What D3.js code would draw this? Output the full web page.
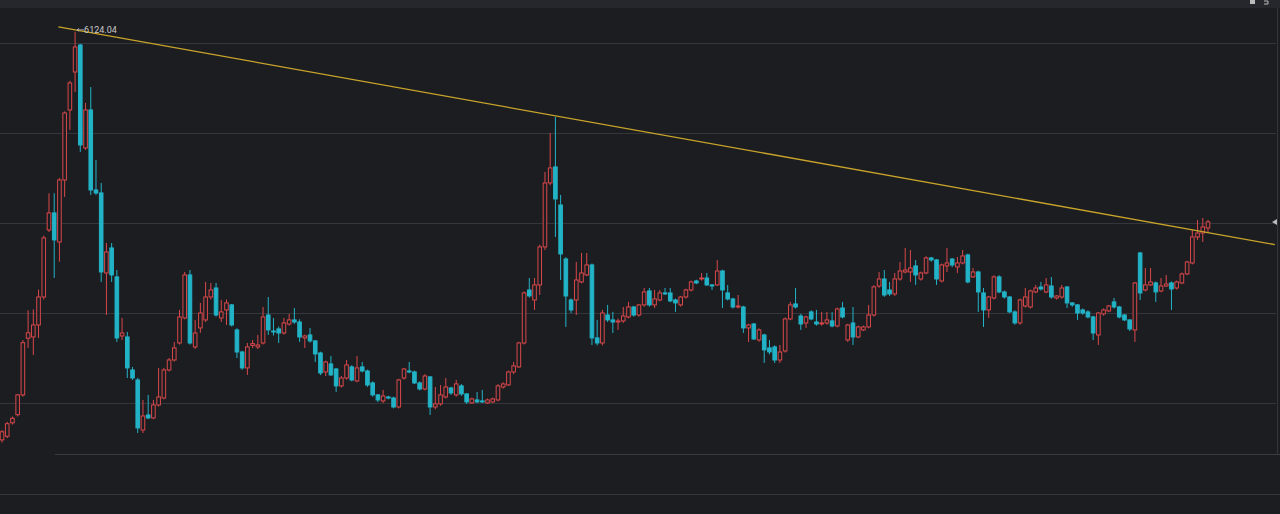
<!DOCTYPE html>
<html>
<head>
<meta charset="utf-8">
<script src="https://cdn.jsdelivr.net/npm/d3@7"></script>
<style>
  body { margin: 0; background: #1c1d21; }
  svg { display: block; }
</style>
</head>
<body>
<div id="chart"></div>
<script>
var width = 1280, height = 514;

// monthly candles
var opens = [1590,1630,1780,1870,2090,2720,2734,2867,3178,3923,4112,3789,4478,5256,5678,5978,4834,5256,4367,4334,3445,3723,3401,2745,2734,2367,2256,1700,1867,1834,1978,2056,2367,2478,2667,2945,3423,2623,2834,2923,3178,3278,2945,3034,3090,2812,2567,2390,
  2640,2623,2667,2978,2800,2823,2778,2878,2923,2900,2723,2756,2690,2556,2345,2434,2378,2190,2278,2401,2245,2401,2356,2223,2090,2023,2067,2056,1956,2278,2356,2345,2223,2156,2290,1956,1990,2067,2167,2090,2190,2101,2001,2034,2023,2001,2012,2034,2178,2201,2345,2401,2667,3256,3145,3312,3734,4445,4623,4200,3600,3145,
  3145,3345,3423,3534,2723,2667,2978,2923,2900,2912,2956,3067,2978,3090,3245,3090,3145,3223,3223,3145,3090,3178,3256,3356,3378,3389,3312,3312,3467,3223,3156,3067,3067,2834,2878,2701,2756,2612,2623,2478,2578,2934,3101,2967,2889,3012,2900,2880,2889,2912,2856,3056,2701,2889,2734,2812,2845,2978,3300,
  3378,3256,3212,3378,3456,3456,3523,3378,3445,3612,3590,3356,3523,3600,3512,3556,3645,3401,3456,3223,3034,3167,3401,3234,3178,3012,2890,3078,3067,3234,3289,3234,3300,3167,3178,3289,3112,3090,3034,3012,2956,2756,2990,3023,3123,3067,2978,2923,2812,3667,3256,3312,3334,3245,3300,3334,3278,3334,3434,3556,3845,3889,3945];
var closes = [1680,1770,1830,2090,2670,2780,2867,3178,3834,4112,3812,4478,5223,5556,5956,4867,5256,4367,4334,3456,3678,3423,2723,2778,2390,2278,1723,1856,1834,1978,2067,2367,2478,2612,2956,3423,2667,2778,3000,3178,3256,2978,3012,3112,2867,2567,2390,2623,
  2660,2645,2956,2812,2790,2778,2890,2923,2900,2734,2745,2690,2545,2334,2456,2312,2190,2278,2423,2256,2390,2356,2200,2090,2034,2078,2056,1956,2256,2378,2345,2223,2156,2300,1956,1990,2090,2178,2112,2212,2101,2012,2045,2012,2012,2034,2045,2190,2212,2345,2412,2667,3223,3190,3312,3734,4445,4612,4267,3656,3189,3034,
  3367,3445,3534,2723,2667,3000,2923,2900,2912,2967,3067,2978,3090,3234,3090,3156,3223,3212,3134,3112,3178,3256,3345,3334,3389,3312,3300,3467,3256,3156,3067,3078,2834,2867,2712,2812,2590,2567,2478,2567,2934,3090,3067,2878,2956,2934,2878,2890,2923,2856,3045,2956,2867,2734,2845,2845,2978,3290,3378,
  3200,3212,3378,3467,3478,3500,3423,3445,3612,3590,3378,3534,3556,3534,3556,3634,3345,3456,3234,3034,3178,3401,3234,3178,3012,2890,3145,3178,3245,3278,3267,3312,3178,3189,3278,3112,3090,3000,3000,2956,2778,3000,3034,3078,3067,2956,2923,2823,3334,3223,3312,3345,3234,3300,3323,3267,3345,3434,3567,3845,3889,3956,4012];
var highs = [1700,1790,1850,2100,2700,3030,3040,3260,3860,4330,4330,4500,5240,5580,6124.04,5990,5334,5511,4700,4445,3778,3778,3478,2945,2790,2400,2280,2034,2090,2034,2390,2390,2500,2678,3034,3456,3478,2923,3112,3345,3334,3334,3145,3150,3100,2830,2580,2667,
  2700,2756,3067,3178,2945,2850,2945,2990,3056,2930,2760,2834,2700,2570,2470,2523,2390,2300,2478,2420,2523,2456,2370,2240,2100,2145,2080,2070,2270,2390,2456,2360,2240,2320,2300,2178,2200,2278,2180,2256,2210,2110,2060,2123,2145,2050,2060,2210,2230,2360,2456,2680,3240,3389,3389,3760,4567,5000,5178,4312,3620,3160,
  3567,3667,3667,3550,2923,3034,3090,3012,2940,3067,3123,3080,3100,3278,3278,3256,3256,3278,3278,3160,3190,3270,3360,3370,3445,3445,3320,3589,3480,3312,3170,3200,3080,2880,2890,2830,2770,2700,2640,2645,2950,3123,3278,2990,2970,3030,3034,3012,3012,3010,3060,3123,2880,3067,2860,2860,3090,3310,3456,
  3478,3345,3445,3567,3723,3700,3589,3460,3630,3623,3600,3550,3723,3610,3623,3700,3660,3500,3470,3278,3190,3420,3420,3250,3190,3030,3160,3278,3260,3312,3345,3389,3400,3200,3312,3300,3120,3100,3050,3030,2970,3010,3050,3090,3167,3080,2990,2930,3345,3680,3500,3500,3350,3389,3423,3350,3360,3450,3580,3923,4034,4056,4034];
var lows = [1560,1610,1760,1850,2070,2612,2534,2723,3150,3900,3390,3570,4290,5034,5456,4790,4812,4312,4312,3345,2978,3345,2678,2700,2278,2256,1667,1667,1820,1820,1960,2040,2350,2460,2650,2930,2650,2600,2780,2900,3150,2960,2900,2867,2850,2500,2370,2312,
  2610,2600,2650,2756,2750,2667,2760,2860,2880,2678,2612,2670,2456,2310,2300,2300,2123,2170,2260,2240,2230,2340,2180,2070,2010,2000,2040,1940,1940,2260,2330,2210,2140,2140,1867,1930,1970,2050,2090,2070,2080,1990,1990,2000,2000,1990,2000,2020,2160,2190,2320,2390,2650,3170,3034,3200,3700,4420,3845,3367,2845,3000,
  2978,3330,3410,2645,2640,2640,2900,2778,2812,2890,2940,2960,2960,3070,3070,3056,3130,3200,3120,3012,3070,3160,3240,3320,3360,3300,3256,3300,3056,3140,3050,3050,2778,2678,2700,2680,2445,2540,2445,2445,2560,2920,3050,2812,2834,2920,2860,2860,2870,2840,2840,2940,2678,2645,2720,2800,2830,2960,3280,
  3180,3190,3190,3360,3440,3345,3312,3360,3430,3570,3312,3340,3456,3510,3445,3540,3330,3390,3012,2845,2945,3150,3220,3160,3000,2870,2870,3060,3050,3220,3250,3220,3160,3150,3160,3056,3070,2923,2980,2940,2700,2645,2970,3010,3050,2940,2910,2800,2678,3145,3240,3300,3123,3230,3290,3034,3260,3320,3420,3540,3812,3789,3900];

var gridValues = [6000, 5000, 4000, 3000, 2000];
var peakLabel = "6124.04";
// trend line anchors: [candle index, price]
var trend = [[10.8, 6180], [243.8, 3760]];

var svg = d3.select("#chart").append("svg")
  .attr("width", width).attr("height", height);

svg.append("rect").attr("width", width).attr("height", height).attr("fill", "#1c1d21");
svg.append("rect").attr("width", width).attr("height", 8).attr("fill", "#26272c");

var x = d3.scaleLinear().domain([0, closes.length - 1]).range([2, 1208]);
var y = d3.scaleLinear().domain([2000, 6000]).range([403, 43]);

// grid
svg.append("g").selectAll("line").data(gridValues).enter().append("line")
  .attr("x1", 0).attr("x2", 1276)
  .attr("y1", function(d) { return Math.round(y(d)) + 0.5; })
  .attr("y2", function(d) { return Math.round(y(d)) + 0.5; })
  .attr("stroke", "#34363b").attr("stroke-width", 1);

svg.append("line").attr("x1", 55).attr("x2", width).attr("y1", 454.5).attr("y2", 454.5)
  .attr("stroke", "#3a3c41");
svg.append("line").attr("x1", 0).attr("x2", width).attr("y1", 494.5).attr("y2", 494.5)
  .attr("stroke", "#34363b");
svg.append("line").attr("x1", 1277.5).attr("x2", 1277.5).attr("y1", 8).attr("y2", 454)
  .attr("stroke", "#34363b");

var idx = d3.range(closes.length);
var up = "#d9484b", down = "#22b3c7";
var bw = 3.6;

var candles = svg.append("g").selectAll("g").data(idx).enter().append("g");

candles.append("line")
  .attr("x1", function(i) { return x(i); })
  .attr("x2", function(i) { return x(i); })
  .attr("y1", function(i) { return y(highs[i]); })
  .attr("y2", function(i) { return y(lows[i]); })
  .attr("stroke", function(i) { return closes[i] >= opens[i] ? up : down; })
  .attr("stroke-width", 1);

candles.append("rect")
  .attr("x", function(i) { return x(i) - bw / 2; })
  .attr("width", bw)
  .attr("y", function(i) { return y(Math.max(opens[i], closes[i])); })
  .attr("height", function(i) { return Math.max(1, Math.abs(y(opens[i]) - y(closes[i]))); })
  .attr("fill", function(i) { return closes[i] >= opens[i] ? "#1c1d21" : down; })
  .attr("stroke", function(i) { return closes[i] >= opens[i] ? up : down; })
  .attr("stroke-width", 1);

// trend line
svg.append("line")
  .attr("x1", x(trend[0][0])).attr("y1", y(trend[0][1]))
  .attr("x2", x(trend[1][0])).attr("y2", y(trend[1][1]))
  .attr("stroke", "#c9a42a").attr("stroke-width", 1.3);

// peak label
var pk = d3.maxIndex(highs);
svg.append("path")
  .attr("d", "M" + (x(pk) + 9) + "," + (y(highs[pk]) - 2) + " h-7 l2,-1.5 m-2,1.5 l2,1.5")
  .attr("stroke", "#bbbbbb").attr("stroke-width", 0.8).attr("fill", "none");
svg.append("text")
  .attr("x", x(pk) + 9).attr("y", y(highs[pk]) + 1)
  .attr("fill", "#c8c8c8").attr("font-family", "Roboto, sans-serif").attr("font-size", 9)
  .text(peakLabel);

// last price marker on the right
svg.append("path")
  .attr("d", "M1272," + y(closes[closes.length - 1]) + " l5,-3 l0,6 z")
  .attr("fill", "#bbbbbb");

// top-right icons
svg.append("rect").attr("x", 1250).attr("y", 0).attr("width", 5).attr("height", 4).attr("fill", "#bbbbbb");
svg.append("path").attr("d", "M1264,1 h4 v3 h-4").attr("stroke", "#bbbbbb").attr("fill", "none");
</script>
</body>
</html>
